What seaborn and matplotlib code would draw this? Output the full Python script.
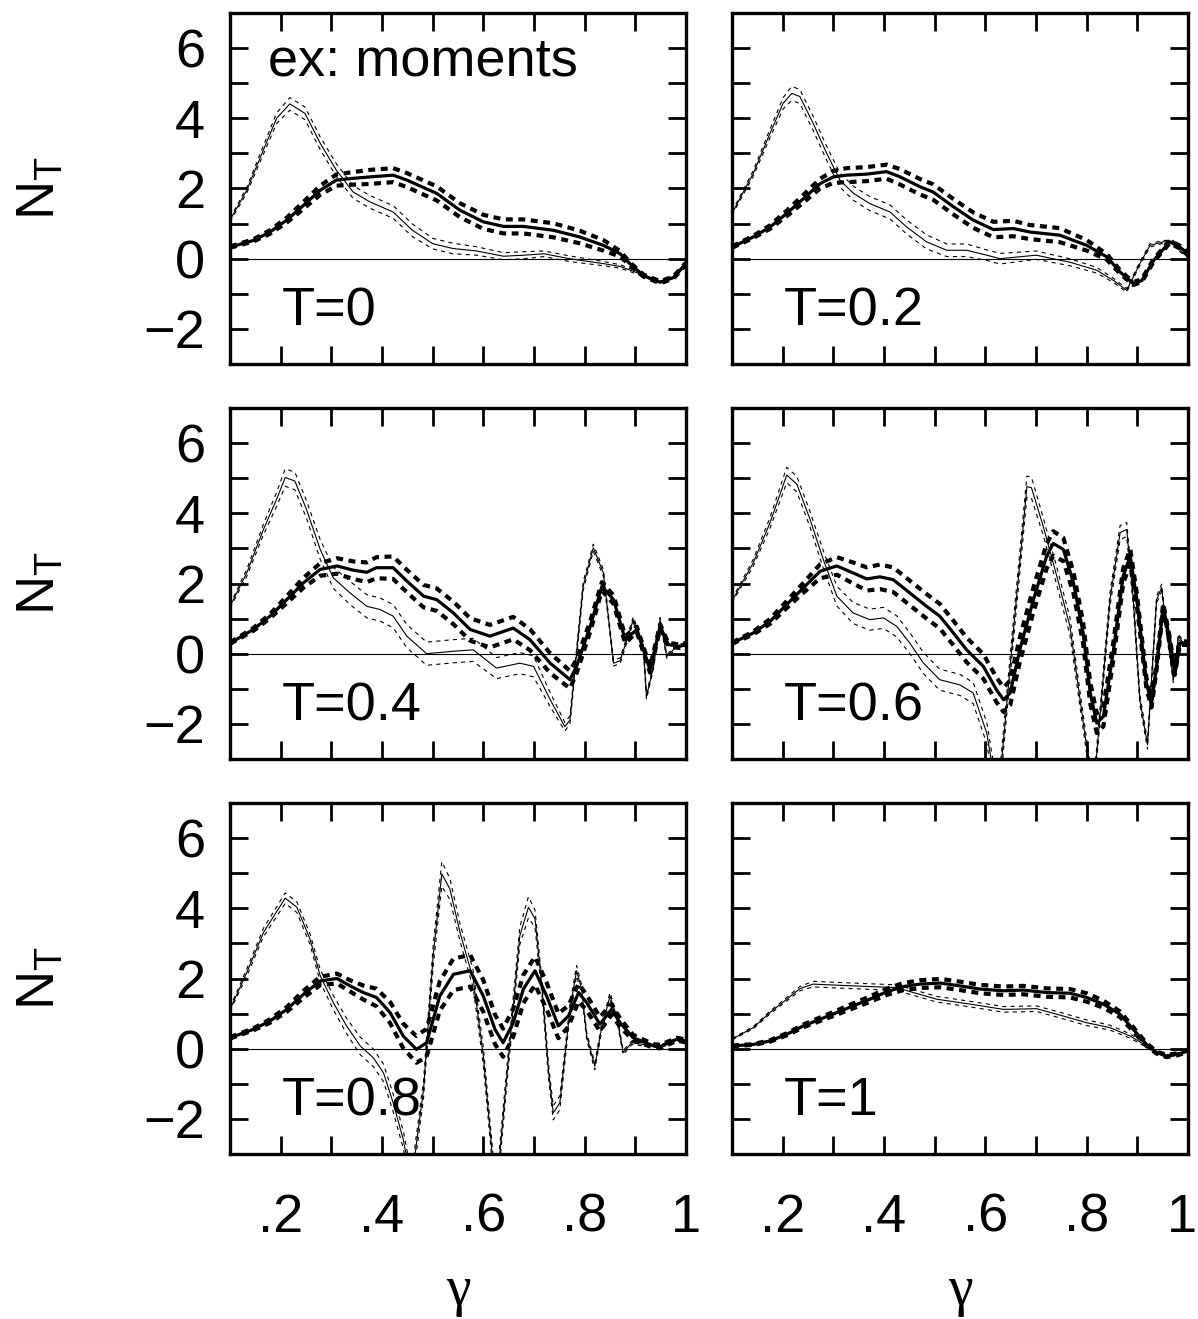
import numpy as np
import pandas as pd
import matplotlib
matplotlib.use("Agg")
import matplotlib.pyplot as plt
from matplotlib.ticker import FixedLocator, FixedFormatter
import seaborn as sns

# ---------------------------------------------------------------- data
# thin curve (x, value, half-width of dotted band) and thick curve per panel
x_t0_thin = [0.10, 0.133, 0.166, 0.192, 0.218, 0.248, 0.278, 0.31, 0.343, 0.376, 0.422, 0.46, 0.50, 0.54, 0.587, 0.64, 0.68, 0.72, 0.77, 0.837, 0.87, 0.90, 0.935, 0.949, 0.975, 1.0]
y_t0_thin = [1.10, 1.95, 3.10, 4.00, 4.41, 4.14, 3.29, 2.52, 1.90, 1.62, 1.33, 0.81, 0.43, 0.29, 0.22, 0.07, 0.10, 0.14, 0.00, -0.14, -0.22, -0.38, -0.60, -0.67, -0.52, -0.14]
e_t0_thin = [0.05, 0.08, 0.12, 0.15, 0.18, 0.18, 0.18, 0.18, 0.18, 0.18, 0.18, 0.18, 0.15, 0.15, 0.12, 0.10, 0.10, 0.08, 0.08, 0.06, 0.05, 0.04, 0.03, 0.03, 0.03, 0.03]
x_t0_thick = [0.10, 0.146, 0.179, 0.212, 0.245, 0.278, 0.31, 0.343, 0.376, 0.422, 0.449, 0.508, 0.554, 0.60, 0.64, 0.679, 0.738, 0.79, 0.837, 0.87, 0.889, 0.916, 0.949, 0.975, 1.0]
y_t0_thick = [0.33, 0.52, 0.76, 1.10, 1.52, 1.95, 2.24, 2.29, 2.33, 2.38, 2.24, 1.86, 1.38, 1.05, 0.92, 0.92, 0.81, 0.62, 0.38, 0.14, -0.14, -0.48, -0.67, -0.54, -0.14]
e_t0_thick = [0.02, 0.03, 0.05, 0.07, 0.10, 0.13, 0.16, 0.18, 0.20, 0.20, 0.20, 0.20, 0.20, 0.20, 0.20, 0.20, 0.20, 0.18, 0.15, 0.08, 0.04, 0.03, 0.03, 0.03, 0.03]

x_t2_thin = [0.10, 0.142, 0.175, 0.201, 0.218, 0.234, 0.26, 0.287, 0.313, 0.34, 0.372, 0.412, 0.445, 0.484, 0.524, 0.563, 0.603, 0.629, 0.70, 0.767, 0.82, 0.853, 0.879, 0.905, 0.925, 0.951, 0.971, 0.984, 1.0]
y_t2_thin = [1.29, 2.43, 3.57, 4.43, 4.71, 4.62, 3.86, 3.00, 2.24, 1.86, 1.57, 1.33, 0.90, 0.48, 0.24, 0.24, 0.10, 0.00, 0.10, -0.10, -0.33, -0.62, -0.90, -0.14, 0.38, 0.48, 0.48, 0.24, 0.05]
e_t2_thin = [0.05, 0.08, 0.12, 0.16, 0.20, 0.20, 0.20, 0.20, 0.20, 0.20, 0.20, 0.20, 0.20, 0.20, 0.18, 0.18, 0.15, 0.15, 0.12, 0.10, 0.08, 0.06, 0.05, 0.05, 0.05, 0.04, 0.04, 0.04, 0.03]
x_t2_thick = [0.10, 0.142, 0.175, 0.208, 0.241, 0.274, 0.30, 0.326, 0.366, 0.405, 0.432, 0.471, 0.497, 0.537, 0.576, 0.616, 0.655, 0.688, 0.747, 0.80, 0.84, 0.866, 0.892, 0.909, 0.932, 0.964, 0.984, 1.0]
y_t2_thick = [0.33, 0.62, 0.90, 1.29, 1.71, 2.14, 2.33, 2.38, 2.41, 2.48, 2.33, 2.05, 1.90, 1.48, 1.10, 0.83, 0.86, 0.76, 0.67, 0.38, 0.05, -0.38, -0.71, -0.62, -0.05, 0.48, 0.33, 0.14]
e_t2_thick = [0.02, 0.03, 0.05, 0.08, 0.11, 0.14, 0.17, 0.20, 0.20, 0.20, 0.22, 0.22, 0.22, 0.22, 0.22, 0.22, 0.22, 0.20, 0.20, 0.15, 0.08, 0.05, 0.04, 0.04, 0.04, 0.04, 0.04, 0.04]

x_t4_thin = [0.10, 0.133, 0.166, 0.192, 0.209, 0.228, 0.251, 0.278, 0.304, 0.337, 0.37, 0.396, 0.422, 0.449, 0.488, 0.541, 0.58, 0.626, 0.672, 0.699, 0.732, 0.761, 0.771, 0.797, 0.817, 0.837, 0.857, 0.87, 0.896, 0.916, 0.922, 0.936, 0.949, 0.962, 0.982, 1.0]
y_t4_thin = [1.35, 2.30, 3.54, 4.40, 5.02, 4.92, 4.11, 2.97, 2.16, 1.73, 1.35, 1.26, 1.07, 0.50, 0.00, 0.07, 0.11, -0.41, -0.27, -0.36, -1.31, -2.08, -1.89, 1.92, 3.02, 2.30, -0.27, -0.20, 0.97, 0.16, -1.22, -0.36, 0.97, -0.08, 0.21, 0.26]
e_t4_thin = [0.05, 0.10, 0.15, 0.20, 0.25, 0.25, 0.25, 0.28, 0.30, 0.33, 0.33, 0.33, 0.33, 0.33, 0.33, 0.33, 0.33, 0.30, 0.30, 0.30, 0.20, 0.12, 0.12, 0.12, 0.10, 0.10, 0.08, 0.08, 0.08, 0.08, 0.08, 0.06, 0.06, 0.05, 0.05, 0.05]
x_t4_thick = [0.10, 0.146, 0.179, 0.212, 0.245, 0.278, 0.311, 0.343, 0.37, 0.389, 0.422, 0.449, 0.482, 0.508, 0.541, 0.574, 0.613, 0.659, 0.692, 0.732, 0.771, 0.784, 0.811, 0.834, 0.857, 0.88, 0.903, 0.929, 0.949, 0.965, 0.988, 1.0]
y_t4_thick = [0.30, 0.69, 1.07, 1.54, 2.02, 2.40, 2.50, 2.38, 2.32, 2.45, 2.45, 2.07, 1.64, 1.54, 1.16, 0.69, 0.50, 0.73, 0.40, -0.27, -0.74, -0.36, 0.78, 1.92, 1.54, 0.40, 0.69, -0.46, 0.78, 0.26, 0.21, 0.26]
e_t4_thick = [0.02, 0.04, 0.06, 0.10, 0.14, 0.18, 0.22, 0.25, 0.28, 0.30, 0.32, 0.32, 0.32, 0.32, 0.32, 0.32, 0.32, 0.32, 0.30, 0.28, 0.25, 0.20, 0.15, 0.12, 0.12, 0.10, 0.08, 0.08, 0.06, 0.05, 0.05, 0.05]

x_t6_thin = [0.10, 0.142, 0.175, 0.208, 0.228, 0.254, 0.28, 0.307, 0.339, 0.372, 0.399, 0.425, 0.451, 0.478, 0.51, 0.55, 0.576, 0.603, 0.625, 0.655, 0.682, 0.691, 0.714, 0.741, 0.767, 0.787, 0.813, 0.846, 0.866, 0.879, 0.892, 0.905, 0.92, 0.938, 0.948, 0.958, 0.971, 0.981, 0.991, 1.0]
y_t6_thin = [1.50, 2.59, 3.73, 5.09, 4.83, 3.83, 2.69, 1.64, 1.16, 0.97, 1.02, 0.78, 0.30, -0.27, -0.74, -0.89, -1.12, -2.27, -4.20, 0.59, 4.76, 4.73, 3.64, 2.21, 0.78, -1.31, -4.00, 1.54, 3.45, 3.54, 1.54, -1.31, -2.60, 1.54, 1.88, 0.59, -0.74, 0.50, 0.30, 0.30]
e_t6_thin = [0.05, 0.10, 0.15, 0.22, 0.22, 0.22, 0.25, 0.28, 0.30, 0.30, 0.30, 0.30, 0.30, 0.30, 0.30, 0.30, 0.30, 0.30, 0.30, 0.30, 0.30, 0.30, 0.25, 0.25, 0.25, 0.22, 0.20, 0.20, 0.20, 0.20, 0.18, 0.15, 0.12, 0.10, 0.10, 0.08, 0.08, 0.06, 0.05, 0.05]
x_t6_thick = [0.10, 0.142, 0.175, 0.208, 0.241, 0.274, 0.307, 0.339, 0.366, 0.392, 0.418, 0.451, 0.484, 0.51, 0.537, 0.563, 0.596, 0.622, 0.636, 0.649, 0.668, 0.695, 0.721, 0.734, 0.754, 0.774, 0.793, 0.807, 0.82, 0.833, 0.853, 0.872, 0.886, 0.899, 0.918, 0.928, 0.938, 0.951, 0.964, 0.974, 0.984, 1.0]
y_t6_thick = [0.30, 0.59, 0.92, 1.40, 1.88, 2.35, 2.50, 2.30, 2.13, 2.19, 2.11, 1.73, 1.35, 1.07, 0.59, 0.11, -0.36, -1.03, -1.31, -1.12, 0.11, 1.54, 2.78, 3.14, 2.97, 2.02, 0.59, -1.12, -1.98, -1.79, 0.11, 2.21, 2.78, 1.54, -0.84, -1.41, -0.36, 1.35, 0.40, -0.55, 0.30, 0.30]
e_t6_thick = [0.02, 0.04, 0.07, 0.10, 0.14, 0.20, 0.25, 0.30, 0.33, 0.35, 0.35, 0.35, 0.35, 0.35, 0.35, 0.35, 0.35, 0.35, 0.35, 0.35, 0.35, 0.35, 0.35, 0.35, 0.33, 0.30, 0.30, 0.30, 0.28, 0.28, 0.25, 0.22, 0.20, 0.18, 0.15, 0.12, 0.10, 0.08, 0.06, 0.05, 0.05, 0.05]

x_t8_thin = [0.10, 0.133, 0.166, 0.209, 0.232, 0.258, 0.278, 0.304, 0.33, 0.357, 0.383, 0.403, 0.422, 0.442, 0.458, 0.482, 0.501, 0.518, 0.534, 0.554, 0.58, 0.60, 0.625, 0.653, 0.672, 0.689, 0.702, 0.716, 0.729, 0.738, 0.751, 0.771, 0.784, 0.794, 0.804, 0.82, 0.833, 0.85, 0.863, 0.876, 0.893, 0.916, 0.949, 0.982, 1.0]
y_t8_thin = [1.12, 2.17, 3.31, 4.29, 4.03, 3.12, 2.08, 1.31, 0.65, 0.08, -0.26, -0.69, -1.54, -2.59, -3.80, -1.16, 2.65, 4.98, 4.55, 3.31, 1.98, -0.21, -4.20, 0.27, 3.22, 4.03, 3.70, 1.70, -0.69, -1.83, -1.54, 1.12, 2.22, 1.70, 0.36, -0.50, 0.55, 1.50, 0.93, -0.11, 0.17, 0.12, 0.06, 0.27, 0.17]
e_t8_thin = [0.05, 0.10, 0.12, 0.15, 0.15, 0.15, 0.18, 0.20, 0.22, 0.25, 0.25, 0.25, 0.25, 0.25, 0.25, 0.25, 0.30, 0.35, 0.30, 0.25, 0.25, 0.25, 0.25, 0.25, 0.25, 0.30, 0.25, 0.20, 0.20, 0.20, 0.20, 0.15, 0.15, 0.12, 0.10, 0.10, 0.10, 0.10, 0.08, 0.06, 0.05, 0.04, 0.04, 0.04, 0.04]
x_t8_thick = [0.10, 0.146, 0.179, 0.212, 0.245, 0.278, 0.311, 0.337, 0.363, 0.389, 0.416, 0.442, 0.468, 0.488, 0.514, 0.541, 0.574, 0.60, 0.623, 0.639, 0.659, 0.679, 0.702, 0.725, 0.748, 0.768, 0.788, 0.804, 0.83, 0.853, 0.87, 0.896, 0.936, 0.949, 0.982, 1.0]
y_t8_thick = [0.31, 0.55, 0.79, 1.12, 1.55, 1.93, 2.00, 1.79, 1.60, 1.46, 1.03, 0.36, -0.02, 0.17, 1.50, 2.12, 2.22, 1.50, 0.55, 0.17, 0.74, 1.70, 2.22, 1.50, 0.65, 0.93, 1.60, 1.31, 0.70, 1.12, 0.74, 0.31, 0.08, 0.06, 0.27, 0.22]
e_t8_thick = [0.02, 0.03, 0.05, 0.07, 0.10, 0.12, 0.14, 0.16, 0.20, 0.25, 0.30, 0.35, 0.38, 0.40, 0.42, 0.45, 0.45, 0.45, 0.42, 0.40, 0.40, 0.40, 0.40, 0.38, 0.35, 0.30, 0.25, 0.22, 0.20, 0.15, 0.12, 0.08, 0.05, 0.05, 0.04, 0.04]

x_t10_thin = [0.10, 0.142, 0.175, 0.208, 0.234, 0.26, 0.307, 0.372, 0.425, 0.458, 0.504, 0.57, 0.636, 0.701, 0.754, 0.80, 0.846, 0.886, 0.918, 0.938, 0.958, 0.978, 1.0]
y_t10_thin = [0.27, 0.60, 1.03, 1.41, 1.71, 1.84, 1.81, 1.77, 1.74, 1.60, 1.41, 1.27, 1.12, 1.14, 0.93, 0.74, 0.60, 0.36, 0.08, -0.11, -0.21, -0.16, -0.07]
e_t10_thin = [0.02, 0.03, 0.04, 0.05, 0.06, 0.08, 0.08, 0.08, 0.08, 0.08, 0.08, 0.08, 0.08, 0.08, 0.08, 0.08, 0.07, 0.06, 0.04, 0.03, 0.03, 0.03, 0.03]
x_t10_thick = [0.10, 0.142, 0.175, 0.208, 0.241, 0.274, 0.307, 0.339, 0.372, 0.405, 0.438, 0.471, 0.511, 0.55, 0.589, 0.636, 0.675, 0.721, 0.767, 0.80, 0.833, 0.866, 0.892, 0.918, 0.938, 0.958, 0.978, 1.0]
y_t10_thick = [0.08, 0.12, 0.22, 0.41, 0.65, 0.84, 1.03, 1.22, 1.41, 1.62, 1.77, 1.84, 1.87, 1.79, 1.70, 1.65, 1.67, 1.60, 1.58, 1.46, 1.27, 0.98, 0.55, 0.12, -0.11, -0.21, -0.16, -0.07]
e_t10_thick = [0.01, 0.01, 0.02, 0.03, 0.04, 0.05, 0.06, 0.07, 0.08, 0.09, 0.10, 0.11, 0.12, 0.12, 0.12, 0.12, 0.12, 0.12, 0.12, 0.12, 0.10, 0.08, 0.06, 0.04, 0.03, 0.03, 0.03, 0.03]

panel_labels = ["T=0", "T=0.2", "T=0.4", "T=0.6", "T=0.8", "T=1"]
x_tick_values = [0.2, 0.4, 0.6, 0.8, 1.0]
x_tick_labels = [".2", ".4", ".6", ".8", "1"]
y_tick_values = [-2, 0, 2, 4, 6]
y_tick_labels = ["\u22122", "0", "2", "4", "6"]

panels = [
    (x_t0_thin, y_t0_thin, e_t0_thin, x_t0_thick, y_t0_thick, e_t0_thick),
    (x_t2_thin, y_t2_thin, e_t2_thin, x_t2_thick, y_t2_thick, e_t2_thick),
    (x_t4_thin, y_t4_thin, e_t4_thin, x_t4_thick, y_t4_thick, e_t4_thick),
    (x_t6_thin, y_t6_thin, e_t6_thin, x_t6_thick, y_t6_thick, e_t6_thick),
    (x_t8_thin, y_t8_thin, e_t8_thin, x_t8_thick, y_t8_thick, e_t8_thick),
    (x_t10_thin, y_t10_thin, e_t10_thin, x_t10_thick, y_t10_thick, e_t10_thick),
]

# ---------------------------------------------------------------- style
sns.set_theme(style="ticks")
plt.rcParams.update({
    "font.family": ["Liberation Sans", "DejaVu Sans"],
    "mathtext.fontset": "custom",
    "mathtext.rm": "Liberation Sans",
    "mathtext.it": "Liberation Sans",
    "mathtext.default": "rm",
    "lines.scale_dashes": False,
    "axes.edgecolor": "black",
    "axes.labelcolor": "black",
    "text.color": "black",
    "xtick.color": "black",
    "ytick.color": "black",
})

FS = 39
W, H = 1198, 1319
fig = plt.figure(figsize=(W / 100, H / 100), dpi=100)
fig.patch.set_facecolor("white")

col_left = [230, 732]
row_top = [13, 408, 803]
ax_w, ax_h = 456, 351
XTICK_PAD = 28


def draw_curve(ax, xs, ys, es, lw_c, lw_b, dash):
    xs = np.asarray(xs)
    ys = np.asarray(ys)
    es = np.asarray(es)
    for sign in (1, -1):
        sns.lineplot(x=xs, y=ys + sign * es, ax=ax, color="black", linewidth=lw_b,
                     linestyle=(0, dash), estimator=None, sort=False, legend=False)
    sns.lineplot(x=xs, y=ys, ax=ax, color="black", linewidth=lw_c,
                 estimator=None, sort=False, legend=False)


for i, (xt, yt, et, xk, yk, ek) in enumerate(panels):
    r, c = divmod(i, 2)
    rect = [col_left[c] / W, 1 - (row_top[r] + ax_h) / H, ax_w / W, ax_h / H]
    ax = fig.add_axes(rect)
    ax.set_facecolor("white")

    ax.axhline(0, color="black", linewidth=0.8, zorder=1)
    draw_curve(ax, xt, yt, et, 0.8, 0.8, (3, 3))
    draw_curve(ax, xk, yk, ek, 2.3, 3.0, (5, 4))

    ax.set_xlim(0.1, 1.0)
    ax.set_ylim(-3, 7)
    ax.xaxis.set_major_locator(FixedLocator(x_tick_values))
    ax.xaxis.set_minor_locator(FixedLocator([0.3, 0.5, 0.7, 0.9]))
    ax.yaxis.set_major_locator(FixedLocator(y_tick_values))
    ax.yaxis.set_minor_locator(FixedLocator([-1, 1, 3, 5]))
    # the right column's "1" sits at the figure edge; it is drawn separately
    xl = list(x_tick_labels)
    if c == 1:
        xl[-1] = ""
    ax.xaxis.set_major_formatter(FixedFormatter(xl))
    ax.yaxis.set_major_formatter(FixedFormatter(y_tick_labels))
    ax.tick_params(which="both", direction="in", top=True, right=True,
                   length=13, width=2.0, labelsize=FS, colors="black")
    ax.tick_params(axis="x", pad=XTICK_PAD, labelbottom=(r == 2))
    ax.tick_params(axis="y", pad=18, labelleft=(c == 0))
    for sp in ax.spines.values():
        sp.set_linewidth(2.4)
        sp.set_visible(True)
    ax.set_xlabel("")
    ax.set_ylabel("")

    ax.text(0.114, 0.111, panel_labels[i], transform=ax.transAxes,
            fontsize=FS, ha="left", va="baseline", color="black")
    if i == 0:
        ax.text(0.083, 0.823, "ex: moments", transform=ax.transAxes,
                fontsize=FS, ha="left", va="baseline", color="black")

    if c == 0:
        fig.text(41 / W, 1 - (row_top[r] + ax_h / 2) / H, r"$N_T$",
                 rotation=90, ha="center", va="center", fontsize=FS, color="black")
    if r == 2:
        fig.text((col_left[c] + ax_w / 2) / W, 1 - 1305 / H, "\u03b3",
                 family=["Liberation Serif", "DejaVu Serif"], fontsize=40,
                 ha="center", va="baseline", color="black")
        if c == 1:
            # same vertical placement as the other tick labels (top aligned below the pad)
            y_top = 1 - (row_top[r] + ax_h) / H - (XTICK_PAD * 100 / 72) / H
            fig.text(1197 / W, y_top, x_tick_labels[-1], fontsize=FS,
                     ha="right", va="top", color="black")

fig.savefig("out.png", dpi=100, facecolor="white")
